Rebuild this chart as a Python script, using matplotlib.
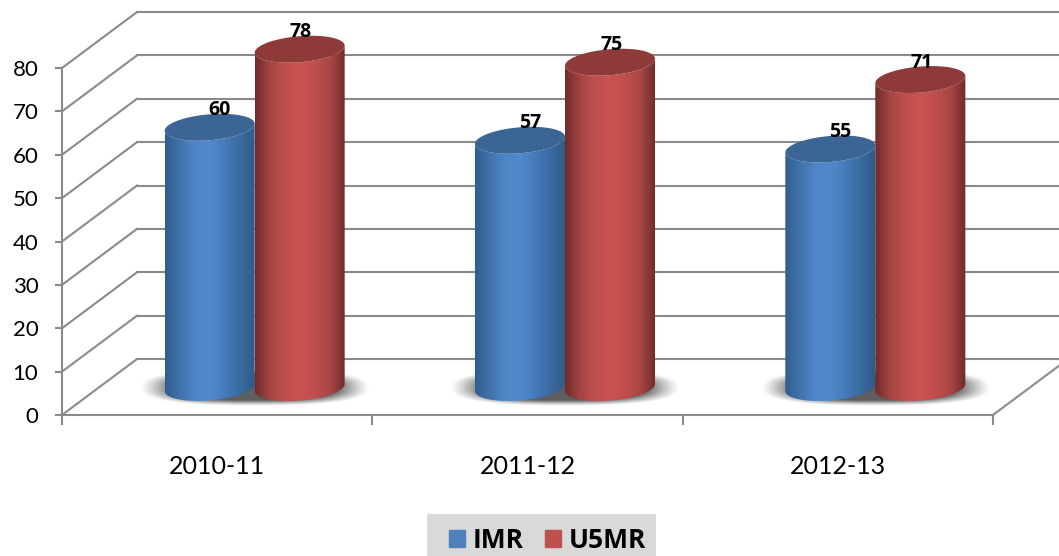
"""3D style cylinder chart of IMR and U5MR by year."""

import matplotlib
matplotlib.use("Agg")
import matplotlib.pyplot as plt
import numpy as np
from matplotlib.colors import LinearSegmentedColormap
from matplotlib.patches import Patch, Polygon, Rectangle

years = ["2010-11", "2011-12", "2012-13"]
imr = [60, 57, 55]
u5mr = [78, 75, 71]
y_ticks = [0, 10, 20, 30, 40, 50, 60, 70, 80]

# label nudges in points (x, y above the cylinder top)
imr_nudge = [7, 5]
u5mr_nudge = [1, 5]

GREY = "#8a8a8a"
BOLD_FONT = "Open Sans"
DEPTH_X = 75 / 310.33   # wall offset in category units
DEPTH_Y = 56 / 4.34     # wall offset in value units
HALF_W = 45 / 310.33
ELL_H = 13 / 4.34
ELL_TILT = 3.5 / 4.34
BASE = 27.5 / 4.34

plt.rcParams["font.family"] = ["Lato", "DejaVu Sans"]

fig = plt.figure(figsize=(10.59, 5.56), dpi=100)
ax = fig.add_axes([62 / 1059, 1 - 415 / 556, 931 / 1059, 347 / 556])


def grad_image(cmap, x0, x1, y0, y1, zorder):
    grad = np.linspace(0, 1, 256).reshape(1, -1)
    im = ax.imshow(grad, cmap=cmap, extent=[x0, x1, y0, y1], aspect="auto",
                   zorder=zorder, interpolation="bilinear")
    return im


def draw_cylinder(cx, value, cmap, top_color, zorder):
    t = np.linspace(np.pi, 2 * np.pi, 60)
    xs = cx + HALF_W * np.cos(t)
    bottom = BASE + ELL_TILT * np.cos(t) + ELL_H * np.sin(t)
    t2 = np.linspace(0, np.pi, 60)
    xt = cx + HALF_W * np.cos(t2)
    top = value + BASE + ELL_TILT * np.cos(t2) - ELL_H * np.sin(t2)
    body = Polygon(np.column_stack([np.r_[xs, xt], np.r_[bottom, top]]),
                   closed=True, fc="none", ec="none", transform=ax.transData)
    ax.add_patch(body)
    im = grad_image(cmap, cx - HALF_W, cx + HALF_W, 0, value + BASE + 5, zorder)
    im.set_clip_path(body)
    im.set_clip_box(fig.bbox)
    t3 = np.linspace(0, 2 * np.pi, 120)
    cap = Polygon(np.column_stack([cx + HALF_W * np.cos(t3),
                                   value + BASE + ELL_TILT * np.cos(t3) + ELL_H * np.sin(t3)]),
                  closed=True, fc=top_color, ec="none", zorder=zorder + 0.1, clip_on=False)
    ax.add_patch(cap)


def draw_shadow(cx):
    u, v = np.meshgrid(np.linspace(-1, 1, 240), np.linspace(-1, 1, 80))
    r = (np.abs(u) ** 2.6 + np.abs(v) ** 2.6) ** (1 / 2.6)
    rgba = np.zeros(r.shape + (4,))
    rgba[..., :3] = 0.3
    rgba[..., 3] = 0.9 * np.clip((1 - r) / 0.3, 0, 1) ** 1.2
    im = ax.imshow(rgba, extent=[cx - 0.37, cx + 0.37, BASE - 4.2, BASE + 4.2],
                   aspect="auto", zorder=2, interpolation="bilinear")
    im.set_clip_box(fig.bbox)


# walls and floor
for v in y_ticks:
    ax.plot([0, DEPTH_X], [v, v + DEPTH_Y], color=GREY, lw=1.5, clip_on=False, zorder=1)
    ax.plot([DEPTH_X, 3 + DEPTH_X], [v + DEPTH_Y, v + DEPTH_Y], color=GREY, lw=1.5,
            clip_on=False, zorder=1)
ax.plot([3, 3 + DEPTH_X], [0, DEPTH_Y], color=GREY, lw=1.5, clip_on=False, zorder=1)

blue_cmap = LinearSegmentedColormap.from_list(
    "blue", ["#2f5d8e", "#4273ac", "#4f86c8", "#5089cc", "#457aba", "#3a6a9e", "#2f5a88"])
red_cmap = LinearSegmentedColormap.from_list(
    "red", ["#6e2b2a", "#a54543", "#bf4f4d", "#cb5351", "#bf4f4d", "#a84644", "#6e2b2a"])

for i in range(len(years)):
    cx = i + 0.5 + DEPTH_X / 2
    draw_shadow(cx)
    draw_cylinder(cx - HALF_W, imr[i], blue_cmap, "#3a6594", 3)
    draw_cylinder(cx + HALF_W, u5mr[i], red_cmap, "#8e3a38", 4)
    ax.annotate(str(imr[i]), (cx - HALF_W, imr[i] + BASE), xytext=imr_nudge,
                textcoords="offset points", ha="center", va="bottom", fontsize=14,
                fontweight="bold", family=BOLD_FONT, color="black", zorder=6,
                annotation_clip=False)
    ax.annotate(str(u5mr[i]), (cx + HALF_W, u5mr[i] + BASE), xytext=u5mr_nudge,
                textcoords="offset points", ha="center", va="bottom", fontsize=14,
                fontweight="bold", family=BOLD_FONT, color="black", zorder=6,
                annotation_clip=False)

ax.set_xlim(0, 3)
ax.set_ylim(0, 80)
ax.set_yticks(y_ticks)
ax.set_xticks([0, 1, 2, 3])
ax.set_xticklabels([])
ax.set_xticks([0.5, 1.5, 2.5], labels=years, minor=True)
ax.tick_params(axis="x", which="major", length=7, width=1.5, color=GREY)
ax.tick_params(axis="x", which="minor", length=0, pad=28.5, labelsize=18)
ax.tick_params(axis="y", length=5, width=1.5, color=GREY, pad=12, labelsize=16)
ax.patch.set_visible(False)
for side in ["top", "right"]:
    ax.spines[side].set_visible(False)
for side in ["left", "bottom"]:
    ax.spines[side].set_color(GREY)
    ax.spines[side].set_linewidth(1.5)
    ax.spines[side].set_zorder(1)

fig.add_artist(Rectangle((427 / 1059, 0), 229 / 1059, 42 / 556, transform=fig.transFigure,
                         fc="#d9d9d9", ec="none", zorder=0))
handles = [Patch(color="#4f81bd", label="IMR"), Patch(color="#c0504d", label="U5MR")]
leg = fig.legend(handles=handles, loc="center", bbox_to_anchor=(547.5 / 1059, 16 / 556), ncol=2,
                 frameon=False, borderaxespad=0, handlelength=0.6, handleheight=0.6,
                 handletextpad=0.3, columnspacing=0.8,
                 prop={"size": 19, "weight": "bold", "family": BOLD_FONT},
                 borderpad=0)

fig.savefig("out.png", dpi=100)
